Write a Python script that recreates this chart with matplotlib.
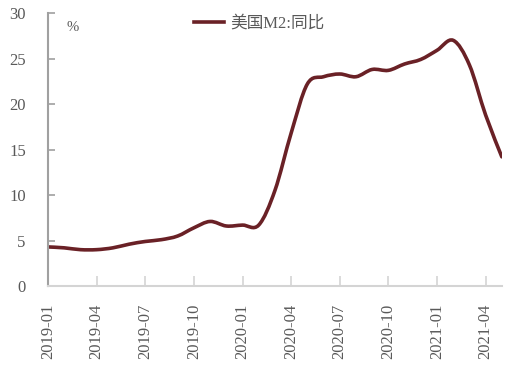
import numpy as np
import matplotlib.pyplot as plt
from matplotlib.path import Path
from matplotlib.patches import PathPatch

# 美国M2同比, 月度, 2019-01 ~ 2021-05
months = ["2019-01", "2019-02", "2019-03", "2019-04", "2019-05", "2019-06",
          "2019-07", "2019-08", "2019-09", "2019-10", "2019-11", "2019-12",
          "2020-01", "2020-02", "2020-03", "2020-04", "2020-05", "2020-06",
          "2020-07", "2020-08", "2020-09", "2020-10", "2020-11", "2020-12",
          "2021-01", "2021-02", "2021-03", "2021-04", "2021-05"]
m2_yoy = [4.3, 4.2, 4.0, 4.0, 4.2, 4.6,
          4.9, 5.1, 5.5, 6.4, 7.1, 6.6,
          6.7, 6.7, 10.5, 16.8, 22.2, 23.0,
          23.3, 23.0, 23.8, 23.7, 24.4, 24.9,
          25.9, 27.0, 24.3, 18.8, 14.2]
yticks = [0, 5, 10, 15, 20, 25, 30]

plt.rcParams['font.family'] = ['Liberation Serif', 'Noto Sans CJK SC']

fig = plt.figure(figsize=(5.11, 3.72), dpi=100)
ax = fig.add_axes([0.094, 0.231, 0.888, 0.734])

x = np.arange(len(months))
y = np.array(m2_yoy)

# 平滑曲线 (类似Excel的平滑线), 用贝塞尔曲线画
verts = [(x[0], y[0])]
codes = [Path.MOVETO]
for i in range(len(x) - 1):
    p0 = (x[max(i - 1, 0)], y[max(i - 1, 0)])
    p1 = (x[i], y[i])
    p2 = (x[i + 1], y[i + 1])
    p3 = (x[min(i + 2, len(x) - 1)], y[min(i + 2, len(x) - 1)])
    c1 = (p1[0] + (p2[0] - p0[0]) / 6, p1[1] + (p2[1] - p0[1]) / 6)
    c2 = (p2[0] - (p3[0] - p1[0]) / 6, p2[1] - (p3[1] - p1[1]) / 6)
    verts += [c1, c2, p2]
    codes += [Path.CURVE4] * 3
ax.add_patch(PathPatch(Path(verts, codes), facecolor='none', edgecolor='#6a2126',
                       lw=2.6, capstyle='round', joinstyle='round'))
# 图例用
ax.plot([], [], color='#6a2126', lw=2.6, label='美国M2:同比')

ax.set_xlim(0, len(months) - 1)
ax.set_ylim(0, 30)
ax.set_yticks(yticks)
ax.set_xticks(x[::3])
ax.set_xticklabels(months[::3], rotation=90)

for s in ['top', 'right']:
    ax.spines[s].set_visible(False)
ax.spines['left'].set_color('#a0a0a0')
ax.spines['left'].set_linewidth(1.5)
ax.spines['bottom'].set_color('#d4d4d4')
ax.spines['bottom'].set_linewidth(1.5)
ax.tick_params(axis='y', direction='in', length=5, width=1.2, color='#a0a0a0',
               labelsize=12, labelcolor='#595959', pad=16)
ax.tick_params(axis='x', direction='in', length=7, width=1.2, color='#d4d4d4',
               labelsize=12, labelcolor='#595959', pad=13)

ax.text(0.04, 0.97, '%', transform=ax.transAxes, ha='left', va='top',
        fontsize=10.5, color='#595959')

leg = ax.legend(loc='upper center', bbox_to_anchor=(0.465, 1.045), frameon=False,
                fontsize=12, handlelength=1.8, handletextpad=0.4)
for t in leg.get_texts():
    t.set_color('#595959')

fig.savefig('out.png', dpi=100)
